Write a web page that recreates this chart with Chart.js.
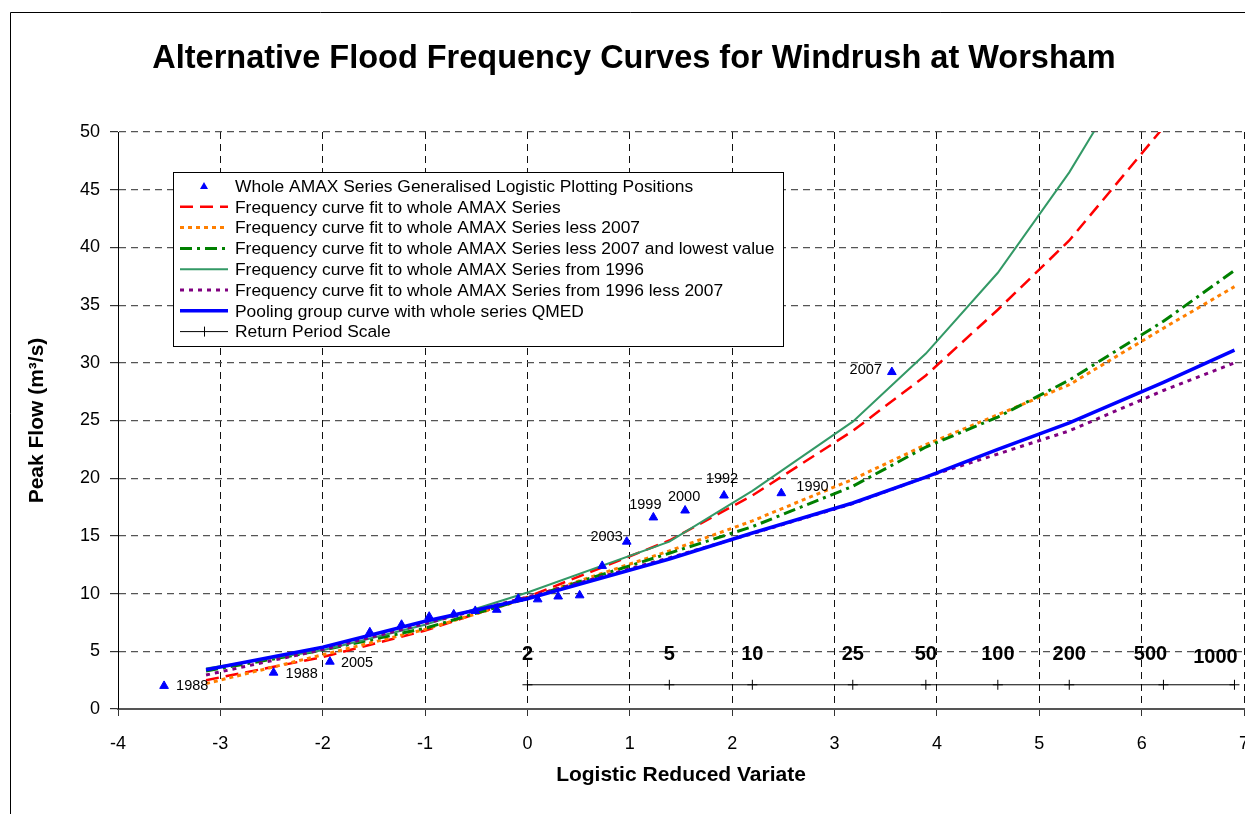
<!DOCTYPE html>
<html>
<head>
<meta charset="utf-8">
<script src="https://cdn.jsdelivr.net/npm/chart.js@4.4.1/dist/chart.umd.min.js"></script>
<style>
  html, body { margin: 0; background: #fff; overflow: hidden; }
  #wrap { position: relative; width: 1245px; height: 814px; overflow: hidden; }
</style>
</head>
<body>
<!-- canvas runs a few px past the window so the x axis ends on the right edge, as in the source -->
<div id="wrap"><canvas id="floodChart" width="1250" height="814"></canvas></div>
<script>
// reduced variate values the fitted curves are drawn through
const curveX = [-3.14, -2, -1, 0, 1.386, 2.197, 3.178, 3.892, 4.595, 5.293, 6.213, 6.907];

const wholeAmax      = [2.5, 4.5, 6.8, 9.7, 14.6, 18.5, 24.1, 28.9, 34.6, 40.6, 50.4, 59.0];
const lessY2007      = [2.2, 4.7, 6.9, 9.6, 13.7, 16.3, 19.9, 22.9, 25.5, 28.1, 33.0, 36.6];
const less2007Lowest = [3.3, 5.1, 7.0, 9.6, 13.5, 15.8, 19.3, 22.7, 25.3, 28.5, 33.6, 38.0];
const from1996       = [3.5, 5.1, 7.3, 10.1, 14.5, 18.9, 24.9, 30.8, 37.8, 46.5, 60.0, 70.0];
const from1996Less07 = [2.95, 5.15, 7.4, 9.7, 13.1, 15.2, 17.8, 20.1, 22.1, 24.1, 27.6, 30.0];
const poolingGroup   = [3.4, 5.35, 7.6, 9.55, 13.0, 15.25, 17.85, 20.1, 22.5, 24.8, 28.3, 31.1];

// plotting positions of the annual maxima
const amaxX = [-3.55, -2.48, -1.93, -1.54, -1.23, -0.96, -0.72, -0.51, -0.30, -0.09,
               0.10, 0.30, 0.51, 0.73, 0.97, 1.23, 1.54, 1.92, 2.48, 3.56];
const amaxY = [2.0, 3.15, 4.1, 6.65, 7.3, 8.0, 8.2, 8.5, 8.6, 9.55,
               9.5, 9.75, 9.85, 12.4, 14.5, 16.6, 17.2, 18.5, 18.7, 29.2];
const amaxYears = ['1988', '1988', '2005', '', '', '', '', '', '', '',
                   '', '', '', '', '2003', '1999', '2000', '1992', '1990', '2007'];

// return period scale
const returnPeriods = ['2', '5', '10', '25', '50', '100', '200', '500', '1000'];
const returnX = [0, 1.386, 2.197, 3.178, 3.892, 4.595, 5.293, 6.213, 6.907];
const returnScaleY = 2.1;
const returnLabelY = 4.7;

const FONT = 'Arial, "Liberation Sans", Helvetica, sans-serif';
Chart.defaults.font.family = FONT;

// where each year label sits relative to its triangle
const yearOffset = {
  0: ['left', 12, 0], 1: ['left', 12, 1], 2: ['left', 11, 1],
  14: ['right', -4, -5], 15: ['center', -8, -12], 16: ['center', -1, -14],
  17: ['center', -2, -17], 18: ['left', 15, -6], 19: ['right', -10, -2]
};
const returnLabelShift = { '500': [-13, 0], '1000': [-19, 3] };

function curve(label, values, color, width, dash, order) {
  return {
    label: label,
    data: curveX.map((v, i) => ({ x: v, y: values[i] })),
    showLine: true,
    borderColor: color,
    backgroundColor: color,
    borderWidth: width,
    borderDash: dash,
    pointRadius: 0,
    fill: false,
    tension: 0,
    order: order
  };
}

const frame = {
  id: 'frame',
  beforeDraw(chart) {
    const c = chart.ctx;
    c.save();
    c.fillStyle = '#fff';
    c.fillRect(0, 0, chart.width, chart.height);
    c.strokeStyle = '#000';
    c.lineWidth = 1;
    c.beginPath();
    c.moveTo(10.5, chart.height);
    c.lineTo(10.5, 12.5);
    c.lineTo(chart.width, 12.5);
    c.stroke();
    c.fillStyle = '#000';
    c.font = 'bold 32.5px ' + FONT;
    c.textAlign = 'center';
    c.textBaseline = 'middle';
    c.fillText('Alternative Flood Frequency Curves for Windrush at Worsham', 634, 59);
    c.restore();
  }
};

const textLabels = {
  id: 'textLabels',
  afterDatasetsDraw(chart) {
    const { ctx, scales: { x, y } } = chart;
    ctx.save();
    ctx.fillStyle = '#000';
    ctx.textBaseline = 'middle';
    ctx.font = '14.5px ' + FONT;
    amaxYears.forEach((yr, i) => {
      if (!yr) return;
      const o = yearOffset[i];
      ctx.textAlign = o[0];
      ctx.fillText(yr, x.getPixelForValue(amaxX[i]) + o[1], y.getPixelForValue(amaxY[i]) + o[2]);
    });
    ctx.font = 'bold 20px ' + FONT;
    ctx.textAlign = 'center';
    returnPeriods.forEach((t, i) => {
      const s = returnLabelShift[t] || [0, 0];
      ctx.fillText(t, x.getPixelForValue(returnX[i]) + s[0], y.getPixelForValue(returnLabelY) + s[1]);
    });
    ctx.restore();
  }
};

const legendBox = {
  id: 'legendBox',
  afterDraw(chart) {
    const ctx = chart.ctx;
    const bx = 173.5, by = 172.5, bw = 610, bh = 174;
    ctx.save();
    ctx.fillStyle = '#fff';
    ctx.fillRect(bx, by, bw, bh);
    ctx.strokeStyle = '#000';
    ctx.lineWidth = 1;
    ctx.strokeRect(bx, by, bw, bh);
    ctx.font = '17.4px ' + FONT;
    ctx.textBaseline = 'middle';
    ctx.textAlign = 'left';
    chart.data.datasets.forEach((ds, i) => {
      const yy = 186 + i * 20.8;
      if (!ds.showLine) {
        ctx.fillStyle = ds.backgroundColor;
        ctx.beginPath();
        ctx.moveTo(204, yy - 4);
        ctx.lineTo(208, yy + 3);
        ctx.lineTo(200, yy + 3);
        ctx.closePath();
        ctx.fill();
      } else {
        ctx.strokeStyle = ds.borderColor;
        ctx.lineWidth = ds.borderWidth;
        ctx.setLineDash(ds.borderDash || []);
        ctx.beginPath();
        ctx.moveTo(180, yy);
        ctx.lineTo(228, yy);
        ctx.stroke();
        ctx.setLineDash([]);
        if (ds.pointStyle === 'cross') {
          ctx.beginPath();
          ctx.moveTo(204.5, yy - 5);
          ctx.lineTo(204.5, yy + 5);
          ctx.stroke();
        }
      }
      ctx.fillStyle = '#000';
      ctx.fillText(ds.label, 235, yy + 1);
    });
    ctx.restore();
  }
};

const ctx = document.getElementById('floodChart').getContext('2d');
const floodChart = new Chart(ctx, {
  type: 'scatter',
  data: {
    datasets: [
      {
        label: 'Whole AMAX Series Generalised Logistic Plotting Positions',
        data: amaxX.map((v, i) => ({ x: v, y: amaxY[i] })),
        showLine: false,
        pointStyle: 'triangle',
        pointRadius: 5,
        backgroundColor: '#0000FF',
        borderColor: '#0000FF',
        borderWidth: 1,
        order: 0
      },
      curve('Frequency curve fit to whole AMAX Series', wholeAmax, '#FF0000', 2.5, [13, 7], 7),
      curve('Frequency curve fit to whole AMAX Series less 2007', lessY2007, '#FF7F00', 3, [4, 4], 6),
      curve('Frequency curve fit to whole AMAX Series less 2007 and lowest value', less2007Lowest, '#008000', 3, [12, 5, 3, 5], 5),
      curve('Frequency curve fit to whole AMAX Series from 1996', from1996, '#339966', 2, [], 4),
      curve('Frequency curve fit to whole AMAX Series from 1996 less 2007', from1996Less07, '#800080', 3, [4, 5], 3),
      curve('Pooling group curve with whole series QMED', poolingGroup, '#0000FF', 3.5, [], 2),
      {
        label: 'Return Period Scale',
        data: returnX.map(v => ({ x: v, y: returnScaleY })),
        showLine: true,
        borderColor: '#000',
        backgroundColor: '#000',
        borderWidth: 1,
        pointStyle: 'cross',
        pointRadius: 5,
        pointBorderColor: '#000',
        pointBorderWidth: 1,
        order: 1
      }
    ]
  },
  options: {
    responsive: false,
    animation: false,
    layout: { padding: { top: 132, right: 1, bottom: 0, left: 0 } },
    plugins: {
      legend: { display: false },
      tooltip: { enabled: false },
      title: { display: false }
    },
    scales: {
      x: {
        type: 'linear',
        min: -4,
        max: 7,
        ticks: { stepSize: 1, color: '#000', font: { size: 18 }, padding: 17, maxRotation: 0, autoSkip: false },
        grid: { color: '#111', lineWidth: 1, tickLength: 7, tickColor: '#333' },
        border: { display: true, color: '#555', width: 2, dash: [7, 5] },
        title: {
          display: true, text: 'Logistic Reduced Variate', color: '#000',
          font: { size: 21, weight: 'bold' }, padding: { top: 0, bottom: 26 }
        },
        afterFit(s) { s.height = 105; s.paddingLeft = 0; s.paddingRight = 0; }
      },
      y: {
        min: 0,
        max: 50,
        ticks: { stepSize: 5, color: '#000', font: { size: 18 }, padding: 10 },
        grid: { color: '#555', lineWidth: 1.2, tickLength: 8, tickColor: '#333' },
        border: { display: true, color: '#000', width: 1, dash: [7, 5] },
        title: {
          display: true, text: 'Peak Flow (m³/s)', color: '#000',
          font: { size: 21, weight: 'bold' }, padding: { top: 25, bottom: 0 }
        },
        afterFit(s) { s.width = 118; s.paddingTop = 0; s.paddingBottom = 0; }
      }
    }
  },
  plugins: [frame, textLabels, legendBox]
});
</script>
</body>
</html>
